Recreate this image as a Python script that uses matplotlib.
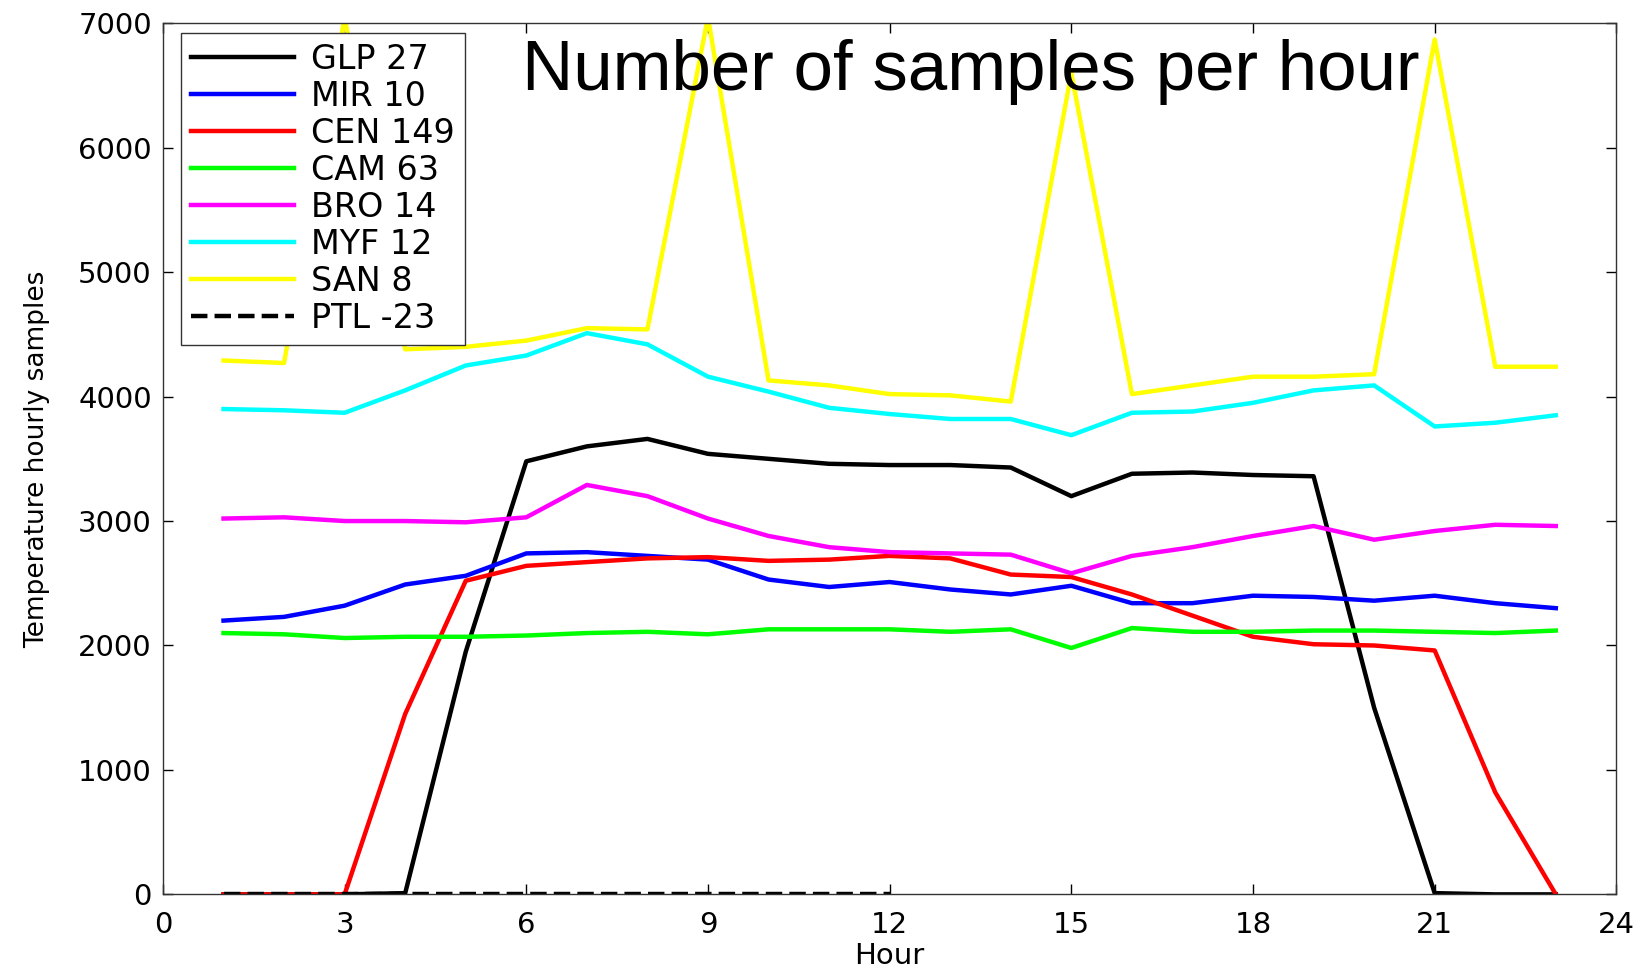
import matplotlib
matplotlib.use("Agg")
import matplotlib.pyplot as plt

plt.rcParams["font.family"] = ["DejaVu Sans"]

hours = list(range(1, 24))

glp = [0, 0, 0, 10, 1950, 3480, 3600, 3660, 3540, 3500, 3460, 3450, 3450, 3430,
       3200, 3380, 3390, 3370, 3360, 1500, 10, 0, 0]
mir = [2200, 2230, 2320, 2490, 2560, 2740, 2750, 2720, 2690, 2530, 2470, 2510,
       2450, 2410, 2480, 2340, 2340, 2400, 2390, 2360, 2400, 2340, 2300]
cen = [0, 0, 0, 1450, 2520, 2640, 2670, 2700, 2710, 2680, 2690, 2720, 2700,
       2570, 2550, 2410, 2240, 2070, 2010, 2000, 1960, 820, 0]
cam = [2100, 2090, 2060, 2070, 2070, 2080, 2100, 2110, 2090, 2130, 2130, 2130,
       2110, 2130, 1980, 2140, 2110, 2110, 2120, 2120, 2110, 2100, 2120]
bro = [3020, 3030, 3000, 3000, 2990, 3030, 3290, 3200, 3020, 2880, 2790, 2750,
       2740, 2730, 2580, 2720, 2790, 2880, 2960, 2850, 2920, 2970, 2960]
myf = [3900, 3890, 3870, 4050, 4250, 4330, 4510, 4420, 4160, 4040, 3910, 3860,
       3820, 3820, 3690, 3870, 3880, 3950, 4050, 4090, 3760, 3790, 3850]
san = [4290, 4270, 7050, 4380, 4400, 4450, 4550, 4540, 7050, 4130, 4090, 4020,
       4010, 3960, 6600, 4020, 4090, 4160, 4160, 4180, 6870, 4240, 4240]
ptl_hours = list(range(1, 13))
ptl = [0] * 12

fig = plt.figure(figsize=(16.46, 9.69), dpi=100)
ax = fig.add_axes([0.099, 0.077, 0.883, 0.899])

lw = 3.2
ax.plot(hours, glp, color="k", linewidth=lw, label="GLP 27")
ax.plot(hours, mir, color=(0, 0, 1), linewidth=lw, label="MIR 10")
ax.plot(hours, cen, color=(1, 0, 0), linewidth=lw, label="CEN 149")
ax.plot(hours, cam, color=(0, 1, 0), linewidth=lw, label="CAM 63")
ax.plot(hours, bro, color=(1, 0, 1), linewidth=lw, label="BRO 14")
ax.plot(hours, myf, color=(0, 1, 1), linewidth=lw, label="MYF 12")
ax.plot(hours, san, color=(1, 1, 0), linewidth=lw, label="SAN 8")
ax.plot(ptl_hours, ptl, color="k", linewidth=lw, linestyle="--", label="PTL -23")

ax.set_xlim(0, 24)
ax.set_ylim(0, 7000)
ax.set_xticks(range(0, 25, 3))
ax.set_yticks(range(0, 7001, 1000))
ax.tick_params(direction="in", top=True, right=True, labelsize=21, length=7, width=1)
ax.tick_params(axis="y", pad=8)
ax.tick_params(axis="x", pad=12)
for s in ax.spines.values():
    s.set_linewidth(1)
    s.set_color("#333333")

ax.set_xlabel("Hour", fontsize=21, labelpad=2)
ax.set_ylabel("Temperature hourly samples", fontsize=19, labelpad=20)

ax.text(0.247, 0.923, "Number of samples per hour", transform=ax.transAxes,
        fontsize=51, ha="left", va="baseline", family="Liberation Sans")

leg = ax.legend(loc="upper left", bbox_to_anchor=(0.009, 0.995), fontsize=24,
                handlelength=3.1, handletextpad=0.5, labelspacing=0.12,
                borderpad=0.3, borderaxespad=0.15, fancybox=False, framealpha=1,
                edgecolor="#333333")
leg.get_frame().set_linewidth(1)

fig.savefig("out.png", dpi=100)
